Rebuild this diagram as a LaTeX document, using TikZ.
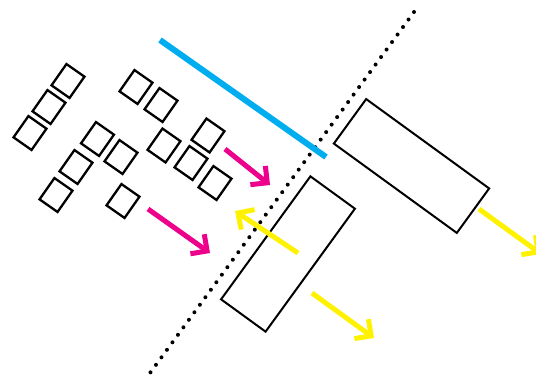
\documentclass[tikz,border=0pt]{standalone}
\usepackage{tikz}
\usetikzlibrary{arrows.meta, positioning}
\definecolor{procCyan}{RGB}{0,174,239}
\definecolor{procMagenta}{RGB}{236,0,140}
\definecolor{procYellow}{RGB}{255,242,0}
\tikzset{tile/.style={draw, line width=2.3pt, minimum width=22pt, minimum height=26pt, inner sep=0pt, rotate=-35},
         slab/.style={draw, line width=2pt, minimum width=152pt, minimum height=55pt, inner sep=0pt},
         ray/.style={line width=5pt, -{Straight Barb[length=12pt, width=24pt, line cap=butt, line join=miter]}}}

\begin{document}
\begin{tikzpicture}[x=1pt, y=-1pt]
        \useasboundingbox (0,0) rectangle (536,376);

        % dotted boundary and the blue bar
        \coordinate (dotTop) at (414,12);
        \coordinate (dotBot) at (150,373);
        \draw[line width=4pt, line cap=round, dash pattern=on 0pt off 9.3pt] (dotTop) -- (dotBot);
        \coordinate (barA) at (160,40);
        \coordinate (barB) at (326,157);
        \draw[procCyan, line width=6pt] (barA) -- (barB);

        % small tiles
        \node[tile] (t1) at (68,81) {};
        \node[tile] (t2) at (49,107) {};
        \node[tile] (t3) at (30,133) {};
        \node[tile] (t4) at (136,87) {};
        \node[tile] (t5) at (161,105) {};
        \node[tile] (t6) at (97.5,139) {};
        \node[tile] (t7) at (121,157) {};
        \node[tile] (t8) at (76,167) {};
        \node[tile] (t9) at (56,195) {};
        \node[tile] (t10) at (123,201) {};
        \node[tile] (t11) at (164,145.5) {};
        \node[tile] (t12) at (208,135.5) {};
        \node[tile] (t13) at (191,163) {};
        \node[tile] (t14) at (215,183) {};

        % big slabs
        \node[slab, rotate=-36] (slabR) at (411.5,166) {};
        \node[slab, rotate=54] (slabL) at (288,254) {};

        % arrows
        \coordinate (m1s) at (225,149);
        \coordinate (m1e) at (270,185);
        \coordinate (m2s) at (148,209);
        \coordinate (m2e) at (210,253);
        \coordinate (y1s) at (298,253);
        \coordinate (y1e) at (235,211);
        \coordinate (y2s) at (312,293);
        \coordinate (y2e) at (374,338);
        \coordinate (y3s) at (479,209);
        \coordinate (y3e) at (541,254);
        \draw[ray, procMagenta] (m1s) -- (m1e);
        \draw[ray, procMagenta] (m2s) -- (m2e);
        \draw[ray, procYellow] (y1s) -- (y1e);
        \draw[ray, procYellow] (y2s) -- (y2e);
        \draw[ray, procYellow] (y3s) -- (y3e);
\end{tikzpicture}
\end{document}
